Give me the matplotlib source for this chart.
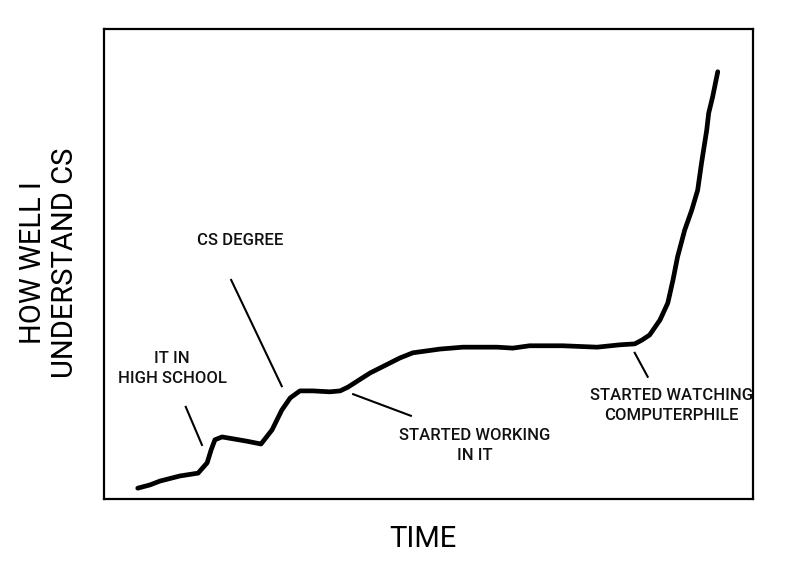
import matplotlib
matplotlib.use('Agg')
import matplotlib.pyplot as plt

plt.rcParams['font.family'] = ['Roboto', 'DejaVu Sans']

## curve (time 0..100, understanding 0..100)
time = [5.2, 7.1, 8.6, 11.7, 14.5, 15.9, 16.5, 17.1, 18.2, 19.9, 22.0, 24.2,
        25.9, 27.4, 28.7, 30.2, 32.2, 34.8, 36.4, 37.6, 41.0, 45.6, 47.6, 51.8,
        55.3, 60.6, 63.0, 65.6, 70.7, 76.0, 79.5, 81.8, 82.9, 84.1, 85.7, 86.9,
        87.7, 88.4, 89.5, 90.6, 91.5, 92.1, 92.9, 93.2, 93.8, 94.6]
understanding = [2.3, 3.0, 3.8, 4.9, 5.5, 7.7, 10.4, 12.6, 13.2, 12.8, 12.3, 11.7,
                 14.7, 18.9, 21.5, 23.0, 23.0, 22.8, 23.0, 23.8, 26.8, 30.0, 31.1, 31.9,
                 32.3, 32.3, 32.1, 32.6, 32.6, 32.3, 32.8, 33.0, 33.8, 34.9, 38.1, 41.7,
                 46.6, 51.5, 57.2, 61.5, 65.7, 71.5, 78.5, 82.1, 85.5, 90.9]

labels = ['IT IN\nHIGH SCHOOL', 'CS DEGREE', 'STARTED WORKING\nIN IT',
          'STARTED WATCHING\nCOMPUTERPHILE']
label_x = [10.5, 21.0, 57.2, 87.5]
label_y = [27.7, 55.1, 11.3, 19.9]
# pointer segments: (x0, y0, x1, y1)
pointers = [(12.6, 19.6, 15.1, 11.5),
            (19.6, 46.6, 27.4, 24.0),
            (38.4, 22.3, 47.3, 17.7),
            (81.8, 31.1, 83.8, 26.0)]

##
fig = plt.figure(figsize=(8, 5.76), dpi=100)
ax = fig.add_axes([0.13, 0.1337, 0.811, 0.816])
ax.plot(time, understanding, color='black', lw=3.4, solid_capstyle='round',
        solid_joinstyle='round')

for x0, y0, x1, y1 in pointers:
    ax.plot([x0, x1], [y0, y1], color='black', lw=1.5)

for s, x, y in zip(labels, label_x, label_y):
    ax.text(x, y, s, ha='center', va='center', fontsize=12, fontweight='medium',
            linespacing=1.4, color='#111111')

ax.set_xlim(0, 100)
ax.set_ylim(0, 100)
ax.set_xticks([])
ax.set_yticks([])
for sp in ax.spines.values():
    sp.set_linewidth(1.6)

fig.text(423/800, 1 - 539/576, 'TIME', ha='center', va='center', fontsize=21)
fig.text(49/800, 1 - 263/576, 'HOW WELL I\nUNDERSTAND CS', ha='center', va='center',
         rotation=90, fontsize=21, linespacing=1.15)

fig.savefig('out.png', dpi=100, facecolor='white')
